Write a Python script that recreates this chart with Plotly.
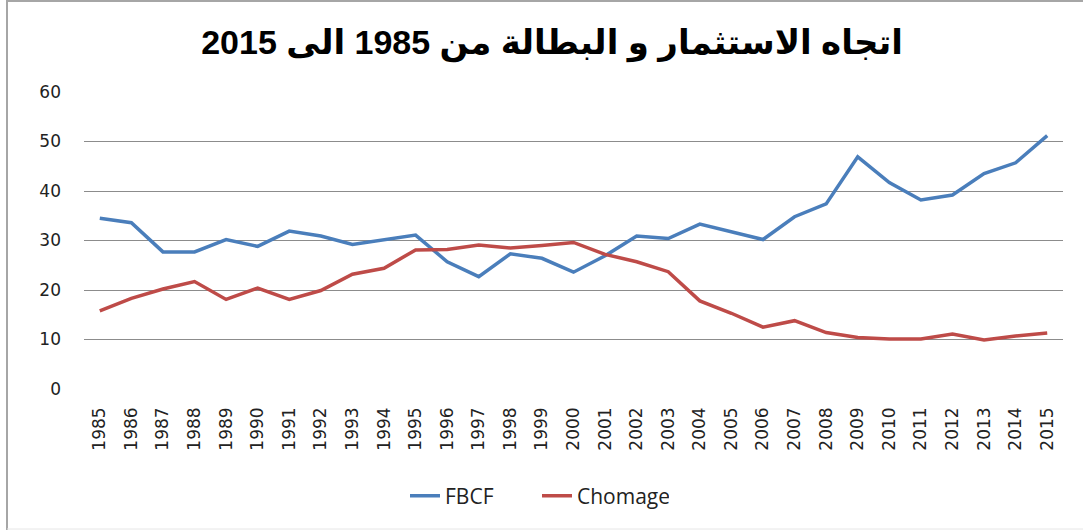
import plotly.graph_objects as go

# Years on the category axis
years = [str(y) for y in range(1985, 2016)]

# Gross fixed capital formation (FBCF) and unemployment rate (Chomage)
fbcf = [34.5, 33.6, 27.7, 27.7, 30.2, 28.8, 31.9, 30.9, 29.2, 30.1,
        31.1, 25.7, 22.7, 27.3, 26.4, 23.6, 26.9, 30.9, 30.4, 33.3,
        31.8, 30.2, 34.8, 37.4, 46.9, 41.7, 38.2, 39.2, 43.5, 45.7, 51.2]
chomage = [15.8, 18.3, 20.2, 21.7, 18.1, 20.4, 18.1, 19.9, 23.2, 24.4,
           28.1, 28.2, 29.1, 28.5, 29.0, 29.6, 27.2, 25.7, 23.7, 17.8,
           15.3, 12.5, 13.8, 11.4, 10.4, 10.1, 10.1, 11.1, 9.9, 10.7, 11.3]

title_text = "اتجاه الاستثمار و البطالة من 1985 الى 2015"

W, H = 1083, 530
L, R, T, B = 84, 20, 92, 141

fig = go.Figure()
fig.add_trace(go.Scatter(x=years, y=fbcf, name="FBCF", mode="lines",
                         line=dict(color="#4a7ebb", width=3.5)))
fig.add_trace(go.Scatter(x=years, y=chomage, name="Chomage", mode="lines",
                         line=dict(color="#be4b48", width=3.5)))

def px_x(p):
    return (p - L) / (W - L - R)

def px_y(p):
    return 1 - (p - T) / (H - T - B)

# Outer chart frame
frame = dict(color="#a6a6a6", width=2)
fig.add_shape(type="line", xref="paper", yref="paper",
              x0=px_x(7), x1=px_x(7), y0=px_y(0), y1=px_y(530), line=frame)
fig.add_shape(type="line", xref="paper", yref="paper",
              x0=px_x(7), x1=px_x(1083), y0=px_y(1), y1=px_y(1), line=frame)
fig.add_shape(type="line", xref="paper", yref="paper",
              x0=px_x(7), x1=px_x(1083), y0=px_y(529), y1=px_y(529),
              line=dict(color="#e6e6e6", width=1))

fig.update_layout(
    width=W, height=H,
    margin=dict(l=L, r=R, t=T, b=B),
    paper_bgcolor="white", plot_bgcolor="white",
    title=dict(text=title_text, x=552 / W, xanchor="center", xref="container",
               y=1 - 42 / H, yanchor="middle", yref="container",
               font=dict(family="Liberation Sans, DejaVu Sans", size=34,
                         color="black", weight="bold")),
    showlegend=True,
    legend=dict(orientation="h", x=px_x(405), xanchor="left",
                y=px_y(496), yanchor="middle",
                font=dict(family="Open Sans", size=21, color="#222"),
                entrywidth=87, entrywidthmode="pixels",
                tracegroupgap=0),
    xaxis=dict(type="category", range=[-0.5, len(years) - 0.5],
               tickangle=-90, showgrid=False,
               showline=False, ticks="", zeroline=False,
               ticklabelstandoff=14,
               tickfont=dict(family="DejaVu Sans", size=17, color="#222")),
    yaxis=dict(range=[0, 60], dtick=10, showgrid=True, gridcolor="#8c8c8c",
               gridwidth=1, zeroline=False, showline=False, ticks="",
               ticklabelstandoff=22,
               tickfont=dict(family="DejaVu Sans", size=17, color="#222")),
)

fig.write_html("out.html")
